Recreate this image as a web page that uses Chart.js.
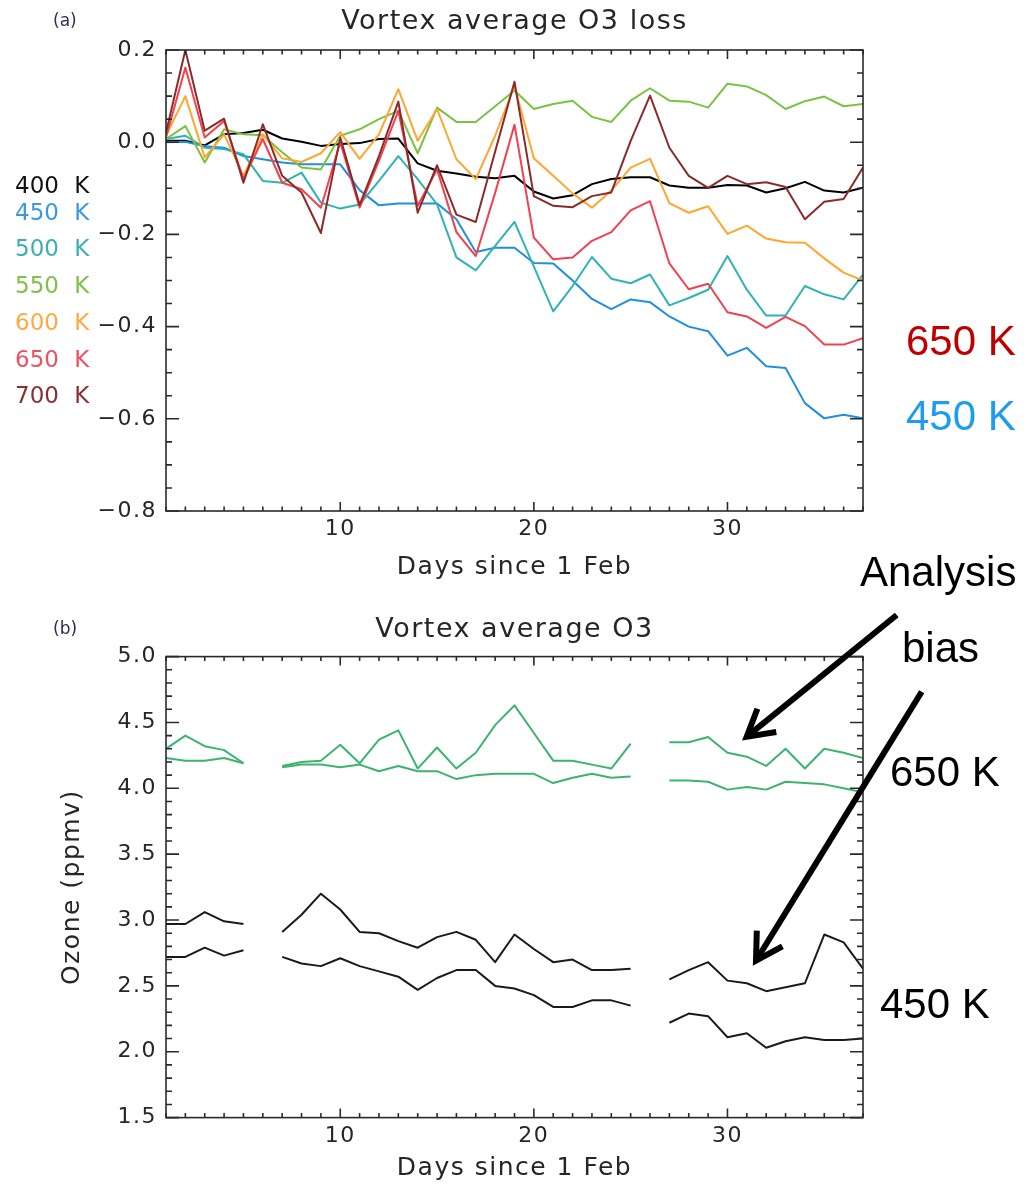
<!DOCTYPE html>
<html>
<head>
<meta charset="utf-8">
<title>Vortex average O3</title>
<script src="https://cdn.jsdelivr.net/npm/chart.js@4.4.1/dist/chart.umd.min.js"></script>
<style>
  html, body { margin: 0; padding: 0; background: #fff; }
  #page { position: relative; width: 1028px; height: 1189px; overflow: hidden; }
  canvas { position: absolute; left: 0; }
  #lossChart { top: 0; }
  #ozoneChart { top: 600px; }
  .txt { position: absolute; white-space: nowrap; line-height: 1; }
  .lvl { font-family: 'DejaVu Sans', sans-serif; font-size: 23px; word-spacing: 8px; }
  .tag { font-family: 'DejaVu Sans', sans-serif; font-size: 17px; color: #2b2f55; }
  .big { font-family: 'Liberation Sans', Arial, sans-serif; font-size: 42px; color: #000; }
  svg { position: absolute; left: 0; top: 0; }
</style>
</head>
<body>
<div id="page">
  <canvas id="lossChart" width="1028" height="600"></canvas>
  <canvas id="ozoneChart" width="1028" height="589"></canvas>

  <div class="txt tag" style="left:53px; top:12px;">(a)</div>
  <div class="txt tag" style="left:53px; top:620px;">(b)</div>
  <div id="levelLabels"></div>

  <div class="txt big" style="left:906px; top:320px; color:#c00000;">650 K</div>
  <div class="txt big" style="left:906px; top:395px; color:#1e9cf0;">450 K</div>
  <div class="txt big" style="left:860px; top:551px;">Analysis</div>
  <div class="txt big" style="left:902px; top:627px;">bias</div>
  <div class="txt big" style="left:890px; top:751px;">650 K</div>
  <div class="txt big" style="left:880px; top:983px;">450 K</div>

  <svg width="1028" height="1189" viewBox="0 0 1028 1189">
    <g stroke="#000" stroke-width="6" fill="none" stroke-linejoin="miter">
      <line x1="896.7" y1="615" x2="748.5" y2="735.3"/>
      <polyline points="757.4,708.7 746.7,736.7 776.3,732"/>
      <line x1="921.7" y1="691.7" x2="757" y2="959"/>
      <polyline points="756.8,930.7 756,960.7 782.4,946.4"/>
    </g>
  </svg>
</div>

<script>
// days since 1 Feb
const days = [1, 2, 3, 4, 5, 6, 7, 8, 9, 10, 11, 12, 13, 14, 15, 16, 17, 18, 19,
              20, 21, 22, 23, 24, 25, 26, 27, 28, 29, 30, 31, 32, 33, 34, 35, 36, 37];
const xLabels = [10, 20, 30];

// (a) vortex average O3 loss, ppmv, per potential temperature level
const levels = ['400 K', '450 K', '500 K', '550 K', '600 K', '650 K', '700 K'];
const loss400 = [0.003, 0.003, -0.007, 0.017, 0.020, 0.027, 0.008, 0.001, -0.008, -0.004, -0.002, 0.007, 0.008,
  -0.046, -0.062, -0.068, -0.075, -0.078, -0.073, -0.107, -0.122, -0.115, -0.091, -0.080, -0.076, -0.076,
  -0.094, -0.099, -0.099, -0.093, -0.094, -0.109, -0.100, -0.086, -0.105, -0.109, -0.099];
const loss450 = [0.000, 0.001, -0.009, -0.012, -0.030, -0.037, -0.044, -0.048, -0.048, -0.048, -0.104, -0.137,
  -0.133, -0.133, -0.133, -0.167, -0.238, -0.229, -0.229, -0.262, -0.263, -0.300, -0.340, -0.362, -0.341,
  -0.347, -0.378, -0.400, -0.410, -0.463, -0.446, -0.486, -0.490, -0.566, -0.599, -0.591, -0.599];
const loss500 = [0.007, 0.014, -0.012, -0.015, -0.026, -0.084, -0.088, -0.066, -0.131, -0.144, -0.135, -0.084,
  -0.030, -0.080, -0.135, -0.250, -0.278, -0.225, -0.173, -0.270, -0.367, -0.312, -0.249, -0.296, -0.306,
  -0.287, -0.354, -0.338, -0.320, -0.247, -0.320, -0.376, -0.376, -0.312, -0.330, -0.341, -0.287];
const loss550 = [0.007, 0.035, -0.044, 0.028, 0.017, 0.015, -0.022, -0.055, -0.059, 0.014, 0.028, 0.050, 0.068,
  -0.024, 0.075, 0.044, 0.044, 0.078, 0.112, 0.072, 0.083, 0.090, 0.055, 0.044, 0.090, 0.117, 0.090, 0.088,
  0.075, 0.127, 0.121, 0.102, 0.072, 0.089, 0.099, 0.078, 0.083];
const loss600 = [0.014, 0.100, -0.033, 0.017, -0.073, 0.017, -0.035, -0.043, -0.024, 0.022, -0.036, 0.017, 0.115,
  0.003, 0.072, -0.037, -0.080, 0.014, 0.122, -0.035, -0.073, -0.111, -0.142, -0.105, -0.055, -0.036, -0.132,
  -0.153, -0.139, -0.199, -0.181, -0.209, -0.217, -0.218, -0.252, -0.283, -0.300];
const loss650 = [0.010, 0.162, 0.010, 0.046, -0.080, 0.007, -0.088, -0.102, -0.142, 0.000, -0.142, -0.040, 0.068,
  -0.138, -0.059, -0.195, -0.247, -0.110, 0.038, -0.207, -0.254, -0.250, -0.214, -0.195, -0.148, -0.128,
  -0.263, -0.319, -0.307, -0.369, -0.378, -0.403, -0.379, -0.399, -0.439, -0.439, -0.425];
const loss700 = [0.021, 0.200, 0.025, 0.051, -0.088, 0.039, -0.073, -0.109, -0.197, 0.010, -0.136, -0.030, 0.088,
  -0.153, -0.050, -0.157, -0.173, -0.020, 0.131, -0.117, -0.138, -0.141, -0.117, -0.109, 0.003, 0.101, -0.012,
  -0.073, -0.099, -0.073, -0.091, -0.087, -0.097, -0.167, -0.129, -0.123, -0.055];
const lossSeries = [loss400, loss450, loss500, loss550, loss600, loss650, loss700];
const lossColors = ['#000000', '#1f8fe0', '#2fb3b3', '#7cc242', '#ffa630', '#f2404e', '#8c2a2a'];
const labelColors = ['#111111', '#3a9ae0', '#3ab0b0', '#80c04a', '#ffaa40', '#ee5060', '#8a3030'];
const labelTops = [174, 200.6, 237, 274, 310.6, 348, 384];

// (b) vortex average O3, ppmv (no data on days 6 and 26)
const ozone650Hi = [4.30, 4.40, 4.32, 4.29, 4.19, null, 4.17, 4.20, 4.21, 4.33, 4.19, 4.37, 4.44, 4.15, 4.31,
  4.15, 4.27, 4.48, 4.63, 4.42, 4.21, 4.21, 4.18, 4.15, 4.34, null, 4.35, 4.35, 4.39, 4.27, 4.24, 4.17, 4.30,
  4.15, 4.30, 4.27, 4.23];
const ozone650Lo = [4.23, 4.21, 4.21, 4.23, 4.19, null, 4.16, 4.18, 4.18, 4.16, 4.18, 4.13, 4.17, 4.13, 4.13,
  4.07, 4.10, 4.11, 4.11, 4.11, 4.04, 4.08, 4.11, 4.08, 4.09, null, 4.06, 4.06, 4.05, 3.99, 4.01, 3.99, 4.05,
  4.04, 4.03, 4.00, 3.97];
const ozone450Hi = [2.97, 2.97, 3.06, 2.99, 2.97, null, 2.91, 3.04, 3.20, 3.08, 2.91, 2.90, 2.84, 2.79, 2.87,
  2.91, 2.85, 2.68, 2.89, 2.78, 2.68, 2.70, 2.62, 2.62, 2.63, null, 2.55, 2.62, 2.68, 2.54, 2.52, 2.46, 2.49,
  2.52, 2.89, 2.83, 2.63];
const ozone450Lo = [2.72, 2.72, 2.79, 2.73, 2.77, null, 2.72, 2.67, 2.65, 2.71, 2.65, 2.61, 2.57, 2.47, 2.56,
  2.62, 2.62, 2.50, 2.48, 2.43, 2.34, 2.34, 2.39, 2.39, 2.35, null, 2.22, 2.29, 2.27, 2.11, 2.14, 2.03, 2.08,
  2.11, 2.09, 2.09, 2.10];
const ozoneSeries = [ozone650Hi, ozone650Lo, ozone450Hi, ozone450Lo];
const ozoneColors = ['#3cb46e', '#3cb46e', '#1a1a1a', '#1a1a1a'];

Chart.defaults.font.family = "'DejaVu Sans', sans-serif";
Chart.defaults.color = '#262626';

// level names down the left of panel (a)
const labelBox = document.getElementById('levelLabels');
levels.forEach((lv, i) => {
  const el = document.createElement('div');
  el.className = 'txt lvl';
  el.style.left = '15px';
  el.style.top = labelTops[i] + 'px';
  el.style.color = labelColors[i];
  el.textContent = lv;
  labelBox.appendChild(el);
});

// slightly airier lettering for all canvas text
const wideText = {
  id: 'wideText',
  beforeUpdate(chart) { chart.ctx.letterSpacing = '1.5px'; },
  beforeDraw(chart) { chart.ctx.letterSpacing = '1.5px'; }
};

// closed frame with inward ticks on all four sides
const frameTicks = {
  id: 'frameTicks',
  afterDatasetsDraw(chart, args, opts) {
    const { ctx, chartArea: a, scales: { x, y } } = chart;
    ctx.save();
    ctx.strokeStyle = '#2a2a2a';
    ctx.lineWidth = 1.6;
    ctx.beginPath();
    for (let d = x.min; d <= x.max; d++) {
      const px = x.getPixelForValue(d);
      const len = d % 10 === 0 ? 9 : 4.5;
      ctx.moveTo(px, a.bottom); ctx.lineTo(px, a.bottom - len);
      ctx.moveTo(px, a.top); ctx.lineTo(px, a.top + len);
    }
    const n = Math.round((y.max - y.min) / opts.minor);
    const per = Math.round(opts.major / opts.minor);
    for (let i = 0; i <= n; i++) {
      const py = y.getPixelForValue(y.min + i * opts.minor);
      const len = i % per === 0 ? 13 : 6;
      ctx.moveTo(a.left, py); ctx.lineTo(a.left + len, py);
      ctx.moveTo(a.right, py); ctx.lineTo(a.right - len, py);
    }
    ctx.stroke();
    ctx.strokeRect(a.left, a.top, a.right - a.left, a.bottom - a.top);
    ctx.restore();
  }
};

const fmt = v => (Math.abs(v) < 1e-9 ? 0 : v).toFixed(1).replace('-', '\u2212');

function makeDatasets(series, colors, names) {
  return series.map((vals, i) => ({
    label: names[i],
    data: days.map((d, j) => ({ x: d, y: vals[j] })),
    borderColor: colors[i],
    borderWidth: 2,
    borderJoinStyle: 'round',
    pointRadius: 0,
    tension: 0,
    spanGaps: false,
    order: series.length - i
  }));
}

function xScale(height) {
  return {
    type: 'linear', min: 1, max: 37,
    grid: { display: false, drawTicks: false },
    border: { display: false },
    afterBuildTicks: s => { s.ticks = xLabels.map(v => ({ value: v })); },
    afterFit: s => { s.height = height; },
    ticks: { font: { size: 22 }, padding: 5, maxRotation: 0, autoSkip: false, callback: v => String(v) },
    title: { display: true, text: 'Days since 1 Feb', font: { size: 25 }, padding: { top: 0, bottom: 0 } }
  };
}

new Chart(document.getElementById('lossChart'), {
  type: 'line',
  data: { datasets: makeDatasets(lossSeries, lossColors, levels) },
  options: {
    responsive: false, animation: false, devicePixelRatio: 1,
    layout: { padding: { left: 0, right: 165, top: 1, bottom: 18 } },
    plugins: {
      legend: { display: false },
      tooltip: { enabled: false },
      title: {
        display: true, text: 'Vortex average O3 loss', fullSize: false,
        font: { size: 27, weight: 'normal' }, padding: { top: 5, bottom: 11.6 }
      },
      frameTicks: { minor: 0.05, major: 0.2 }
    },
    scales: {
      x: xScale(71),
      y: {
        min: -0.8, max: 0.2,
        grid: { display: false, drawTicks: false },
        border: { display: false },
        afterFit: s => { s.width = 166; },
        ticks: { stepSize: 0.2, font: { size: 22 }, padding: 9, callback: fmt }
      }
    }
  },
  plugins: [wideText, frameTicks]
});

new Chart(document.getElementById('ozoneChart'), {
  type: 'line',
  data: { datasets: makeDatasets(ozoneSeries, ozoneColors, ['650 K hi', '650 K lo', '450 K hi', '450 K lo']) },
  options: {
    responsive: false, animation: false, devicePixelRatio: 1,
    layout: { padding: { left: 0, right: 165, top: 0, bottom: 6 } },
    plugins: {
      legend: { display: false },
      tooltip: { enabled: false },
      title: {
        display: true, text: 'Vortex average O3', fullSize: false,
        font: { size: 27, weight: 'normal' }, padding: { top: 13.8, bottom: 10.4 }
      },
      frameTicks: { minor: 0.1, major: 0.5 }
    },
    scales: {
      x: xScale(65.4),
      y: {
        min: 1.5, max: 5.0,
        grid: { display: false, drawTicks: false },
        border: { display: false },
        afterFit: s => { s.width = 166; },
        ticks: { stepSize: 0.5, font: { size: 22 }, padding: 9, callback: fmt },
        title: { display: true, text: 'Ozone (ppmv)', font: { size: 25 }, padding: { top: 57, bottom: 0 } }
      }
    }
  },
  plugins: [wideText, frameTicks]
});
</script>
</body>
</html>
